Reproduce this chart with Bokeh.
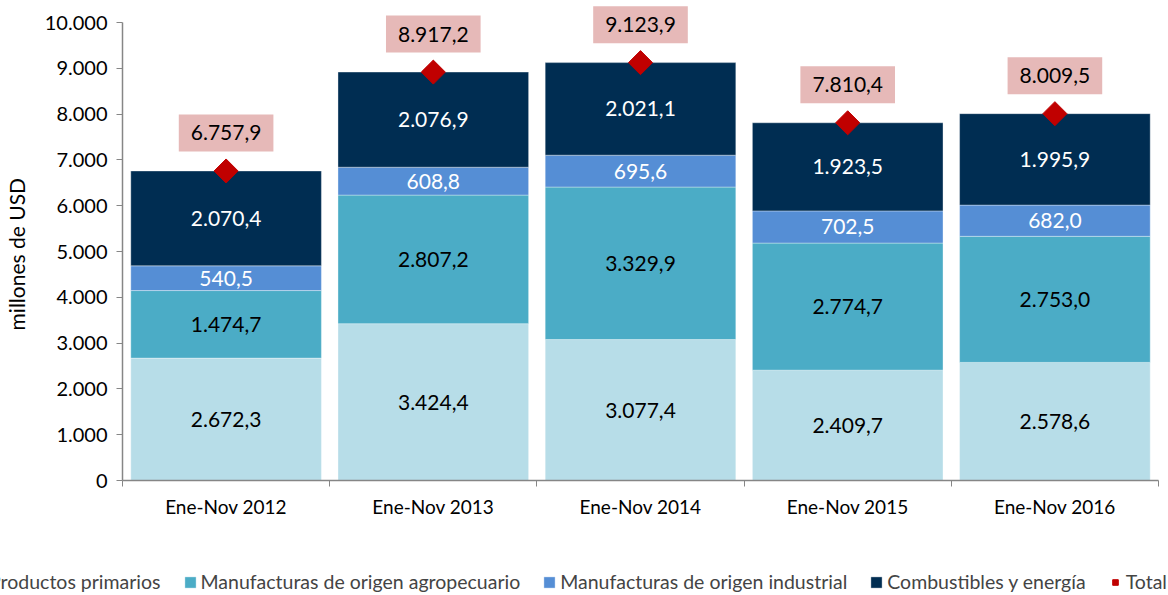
from bokeh.plotting import figure
from bokeh.models import (ColumnDataSource, Range1d, FixedTicker, Legend, LegendItem)
from bokeh.embed import file_html
from bokeh.resources import INLINE
from bokeh.core.properties import value

# ---------------- data ----------------
categories = ["Ene-Nov 2012", "Ene-Nov 2013", "Ene-Nov 2014", "Ene-Nov 2015", "Ene-Nov 2016"]
series_names = ["Productos primarios", "Manufacturas de origen agropecuario",
                "Manufacturas de origen industrial", "Combustibles y energía"]
primarios = [2672.3, 3424.4, 3077.4, 2409.7, 2578.6]
agropecuario = [1474.7, 2807.2, 3329.9, 2774.7, 2753.0]
industrial = [540.5, 608.8, 695.6, 702.5, 682.0]
combustibles = [2070.4, 2076.9, 2021.1, 1923.5, 1995.9]
totales = [6757.9, 8917.2, 9123.9, 7810.4, 8009.5]
y_ticks = [0, 1000, 2000, 3000, 4000, 5000, 6000, 7000, 8000, 9000, 10000]
y_tick_labels = ["0", "1.000", "2.000", "3.000", "4.000", "5.000", "6.000",
                 "7.000", "8.000", "9.000", "10.000"]

colors = ["#b7dde8", "#4bacc6", "#558ed5", "#002d52"]
label_colors = ["#000000", "#000000", "#ffffff", "#ffffff"]
FONT = "Lato"


def es_fmt(v):
    s = f"{v:,.1f}"
    return s.replace(",", "X").replace(".", ",").replace("X", ".")


n = len(categories)
xs = [i + 0.5 for i in range(n)]
keys = ["s0", "s1", "s2", "s3"]
data = dict(x=xs, s0=primarios, s1=agropecuario, s2=industrial, s3=combustibles,
            total=totales, total_lbl=[es_fmt(v) for v in totales])
source = ColumnDataSource(data)

# frame fills the whole canvas; axes are pinned at x=0 / y=0
W, H = 1168, 595
px_left, px_right, px_top, px_bottom = 122, 1158, 22, 480   # where 0..n / 0..10000 land
xs_per_px = n / (px_right - px_left)
ys_per_px = 10000 / (px_bottom - px_top)
x_rng = Range1d(-px_left * xs_per_px, n + (W - px_right) * xs_per_px)
y_rng = Range1d(-(H - px_bottom) * ys_per_px, 10000 + px_top * ys_per_px)

p = figure(width=W, height=H, output_backend="svg", toolbar_location=None,
           x_range=x_rng, y_range=y_rng,
           min_border_left=0, min_border_right=0, min_border_top=0, min_border_bottom=0)
p.outline_line_color = None
p.xgrid.visible = False
p.ygrid.visible = False
p.background_fill_color = "white"
p.border_fill_color = "white"

renderers = p.vbar_stack(keys, x="x", width=0.92, color=colors, source=source,
                         line_color="white", line_alpha=0.35, line_width=1)

# segment labels
bottom = [0.0] * n
for k, vals, tc in zip(keys, [primarios, agropecuario, industrial, combustibles], label_colors):
    mids = [b + v / 2 for b, v in zip(bottom, vals)]
    src = ColumnDataSource(dict(x=xs, y=mids, t=[es_fmt(v) for v in vals]))
    p.text(x="x", y="y", text="t", source=src, text_align="center",
           text_baseline="middle", text_color=tc, text_font=value(FONT),
           text_font_size="21px")
    bottom = [b + v for b, v in zip(bottom, vals)]

# totals
tot_r = p.scatter(x="x", y="total", source=source, marker="square", angle=0.785398,
                  size=17, fill_color="#c00000", line_color="#c00000")
p.text(x="x", y="total", text="total_lbl", source=source,
       y_offset=-38, text_align="center", text_baseline="middle",
       text_font=value(FONT), text_font_size="21px", text_color="#000000",
       background_fill_color="#e6b9b8", padding=(12, 11))

# axes
p.yaxis.fixed_location = 0
p.yaxis.ticker = FixedTicker(ticks=y_ticks)
p.yaxis.bounds = (0, 10000)
p.yaxis.major_label_overrides = {t: l for t, l in zip(y_ticks, y_tick_labels)}
p.yaxis.axis_label = "millones de  USD"
p.yaxis.axis_label_text_font = FONT
p.yaxis.axis_label_text_font_style = "normal"
p.yaxis.axis_label_text_font_size = "21px"
p.yaxis.axis_label_standoff = 13
p.yaxis.major_label_text_font = FONT
p.yaxis.major_label_text_font_size = "20px"
p.yaxis.major_label_standoff = 9
p.yaxis.major_tick_in = 0
p.yaxis.major_tick_out = 6

p.xaxis.fixed_location = 0
p.xaxis.bounds = (0, n)
p.xaxis.ticker = FixedTicker(ticks=xs, minor_ticks=list(range(n + 1)))
p.xaxis.major_label_overrides = {x: c for x, c in zip(xs, categories)}
p.xaxis.major_label_text_font = FONT
p.xaxis.major_label_text_font_size = "19px"
p.xaxis.major_label_standoff = 8
p.xaxis.minor_tick_in = 0
p.xaxis.minor_tick_out = 6

p.yaxis.major_tick_line_color = "#868686"
p.yaxis.minor_tick_line_color = None
p.xaxis.major_tick_line_color = None
p.xaxis.minor_tick_line_color = "#868686"
for ax in [p.xaxis[0], p.yaxis[0]]:
    ax.axis_line_color = "#868686"
    ax.axis_line_width = 1.5
    ax.major_label_text_color = "#000000"
    ax.axis_label_text_color = "#000000"

items = [LegendItem(label=nm, renderers=[r]) for nm, r in zip(series_names, renderers)]
items.append(LegendItem(label="Total", renderers=[tot_r]))
legend = Legend(items=items, orientation="horizontal", location=(-29, 2),
                label_text_font=FONT, label_text_font_size="19.5px",
                glyph_width=14, glyph_height=14, label_standoff=4, spacing=22,
                padding=0, margin=0, border_line_color=None, background_fill_alpha=0)
p.add_layout(legend)

open("out.html", "w").write(file_html(p, INLINE))
